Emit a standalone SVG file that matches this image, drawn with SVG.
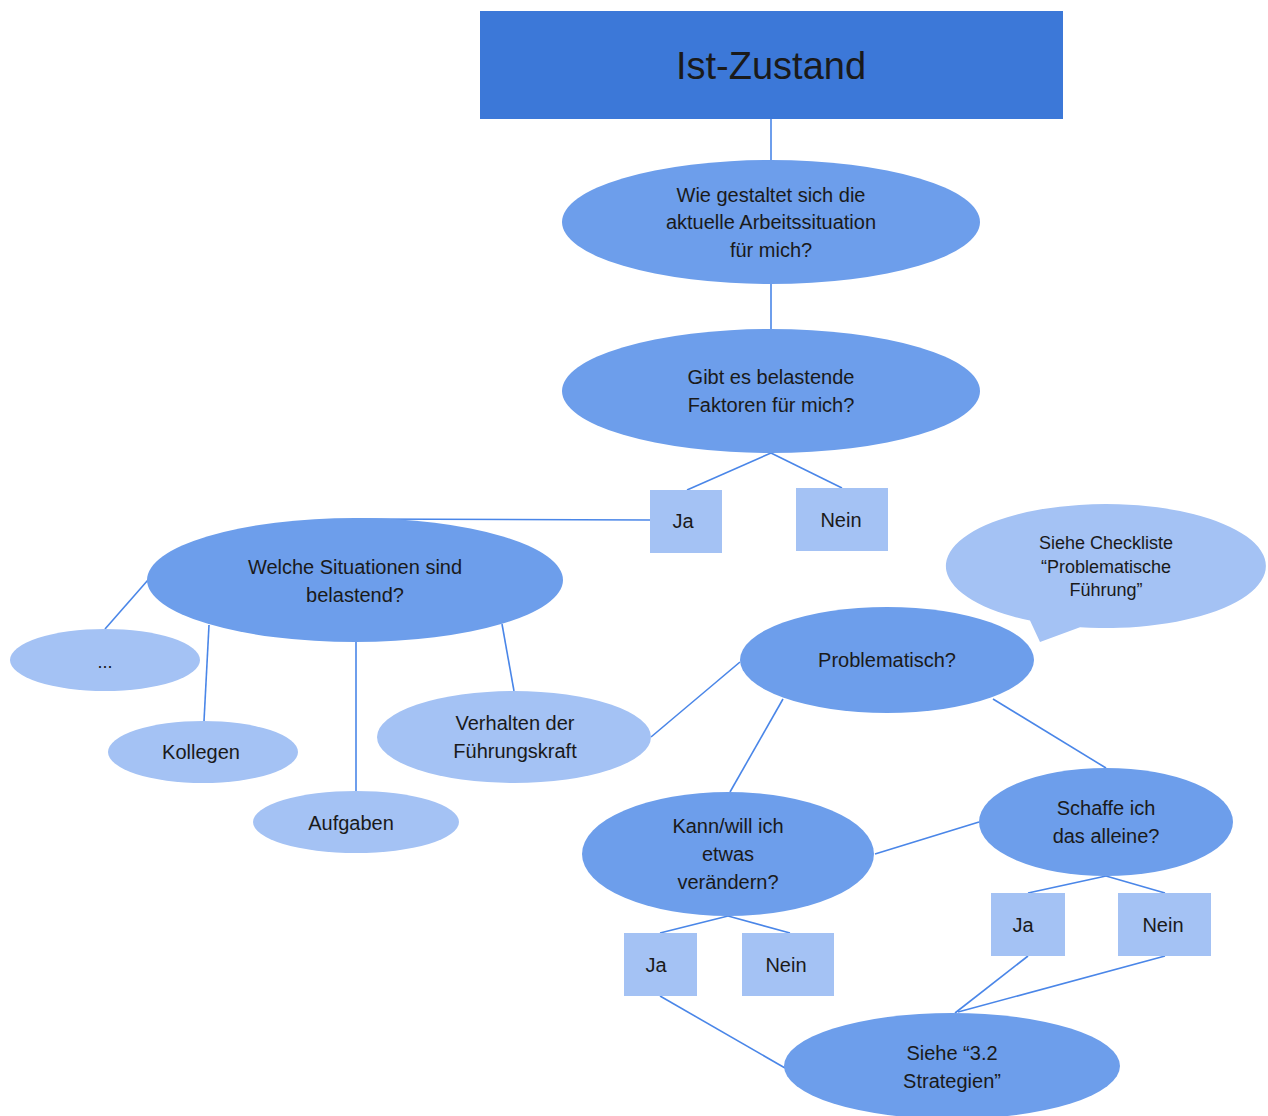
<svg xmlns="http://www.w3.org/2000/svg" width="1268" height="1116" viewBox="0 0 1268 1116">
<style>
text{font-family:"Liberation Sans",Arial,sans-serif;font-size:20px;fill:#1a1a1a;text-anchor:middle;dominant-baseline:central}
.dark{fill:#6d9eeb}
.light{fill:#a4c2f4}
.edge{stroke:#4a86e8;stroke-width:1.6;fill:none}
.small{font-size:18px}
</style>
<rect width="1268" height="1116" fill="#fff"/>
<g id="connectors">
<line class="edge" x1="771" y1="119" x2="771" y2="160"/>
<line class="edge" x1="771" y1="284" x2="771" y2="329"/>
<line class="edge" x1="771" y1="453" x2="687" y2="490"/>
<line class="edge" x1="771" y1="453" x2="842" y2="488"/>
<line class="edge" x1="650" y1="520" x2="355" y2="519"/>
<line class="edge" x1="148" y1="580" x2="105" y2="629"/>
<line class="edge" x1="209" y1="625" x2="204" y2="721"/>
<line class="edge" x1="356" y1="642" x2="356" y2="791"/>
<line class="edge" x1="502" y1="624" x2="514" y2="691"/>
<line class="edge" x1="651" y1="737" x2="740" y2="662"/>
<line class="edge" x1="783" y1="699" x2="730" y2="792"/>
<line class="edge" x1="993" y1="699" x2="1106" y2="768"/>
<line class="edge" x1="875" y1="854" x2="979" y2="822"/>
<line class="edge" x1="728" y1="916" x2="660" y2="933"/>
<line class="edge" x1="728" y1="916" x2="790" y2="933"/>
<line class="edge" x1="1106" y1="876" x2="1028" y2="893"/>
<line class="edge" x1="1106" y1="876" x2="1165" y2="893"/>
<line class="edge" x1="1028" y1="956" x2="955" y2="1013"/>
<line class="edge" x1="1165" y1="956" x2="958" y2="1012"/>
<line class="edge" x1="660" y1="996" x2="785" y2="1068"/>
</g>
<g id="ist-zustand">
<rect x="480" y="11" width="583" height="108" fill="#3c78d8"/>
<text x="771" y="66" style="font-size:38px">Ist-Zustand</text>
</g>
<g id="wie-gestaltet">
<ellipse class="dark" cx="771" cy="222" rx="209" ry="62"/>
<text x="771" y="195">Wie gestaltet sich die</text>
<text x="771" y="222">aktuelle Arbeitssituation</text>
<text x="771" y="250">für mich?</text>
</g>
<g id="gibt-es">
<ellipse class="dark" cx="771" cy="391" rx="209" ry="62"/>
<text x="771" y="377">Gibt es belastende</text>
<text x="771" y="405">Faktoren für mich?</text>
</g>
<g id="ja1">
<rect class="light" x="650" y="490" width="72" height="63"/>
<text x="683" y="521">Ja</text>
</g>
<g id="nein1">
<rect class="light" x="796" y="488" width="92" height="63"/>
<text x="841" y="520">Nein</text>
</g>
<g id="welche">
<ellipse class="dark" cx="355" cy="580" rx="208" ry="62"/>
<text x="355" y="567">Welche Situationen sind</text>
<text x="355" y="595">belastend?</text>
</g>
<g id="dots">
<ellipse class="light" cx="105" cy="660" rx="95" ry="31"/>
<text x="105" y="662" class="small">...</text>
</g>
<g id="kollegen">
<ellipse class="light" cx="203" cy="752" rx="95" ry="31"/>
<text x="201" y="752">Kollegen</text>
</g>
<g id="aufgaben">
<ellipse class="light" cx="356" cy="822" rx="103" ry="31"/>
<text x="351" y="823">Aufgaben</text>
</g>
<g id="verhalten">
<ellipse class="light" cx="514" cy="737" rx="137" ry="46"/>
<text x="515" y="723">Verhalten der</text>
<text x="515" y="751">Führungskraft</text>
</g>
<g id="checkliste">
<path class="light" d="M1030,620.6 A160,62 0 1 1 1080,627.2 L1040,642 Z"/>
<text x="1106" y="543" class="small">Siehe Checkliste</text>
<text x="1106" y="567" class="small">“Problematische</text>
<text x="1106" y="590" class="small">Führung”</text>
</g>
<g id="problematisch">
<ellipse class="dark" cx="887" cy="660" rx="147" ry="53"/>
<text x="887" y="660">Problematisch?</text>
</g>
<g id="kann-will">
<ellipse class="dark" cx="728" cy="854" rx="146" ry="62"/>
<text x="728" y="826">Kann/will ich</text>
<text x="728" y="854">etwas</text>
<text x="728" y="882">verändern?</text>
</g>
<g id="schaffe">
<ellipse class="dark" cx="1106" cy="822" rx="127" ry="54"/>
<text x="1106" y="808">Schaffe ich</text>
<text x="1106" y="836">das alleine?</text>
</g>
<g id="ja2">
<rect class="light" x="624" y="933" width="73" height="63"/>
<text x="656" y="965">Ja</text>
</g>
<g id="nein2">
<rect class="light" x="742" y="933" width="92" height="63"/>
<text x="786" y="965">Nein</text>
</g>
<g id="ja3">
<rect class="light" x="991" y="893" width="74" height="63"/>
<text x="1023" y="925">Ja</text>
</g>
<g id="nein3">
<rect class="light" x="1118" y="893" width="93" height="63"/>
<text x="1163" y="925">Nein</text>
</g>
<g id="strategien">
<ellipse class="dark" cx="952" cy="1066" rx="168" ry="53"/>
<text x="952" y="1053">Siehe “3.2</text>
<text x="952" y="1081">Strategien”</text>
</g>
</svg>
